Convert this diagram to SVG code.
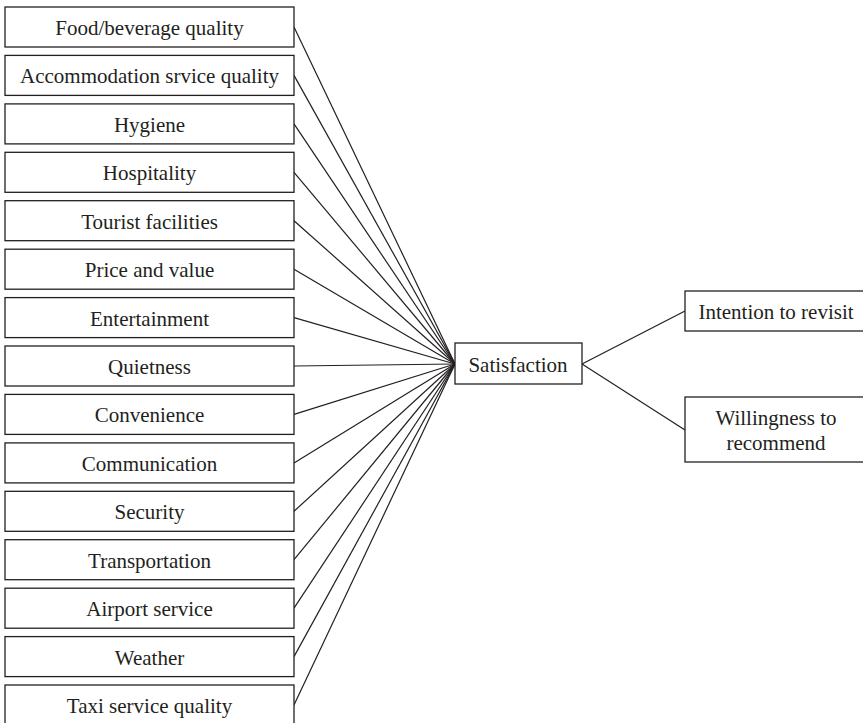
<svg xmlns="http://www.w3.org/2000/svg" width="863" height="723" viewBox="0 0 863 723">
<style>
rect{fill:#fff;stroke:#231f20;stroke-width:1.3}
line{stroke:#231f20;stroke-width:1.2}
text{font-family:"Liberation Serif","Times New Roman",serif;font-size:21px;fill:#231f20;text-anchor:middle}
</style>
<rect x="0" y="0" width="863" height="723" style="stroke:none"/>
<g id="connectors">
<line x1="294" y1="27" x2="455" y2="364"/>
<line x1="294" y1="75.4" x2="455" y2="364"/>
<line x1="294" y1="123.9" x2="455" y2="364"/>
<line x1="294" y1="172.3" x2="455" y2="364"/>
<line x1="294" y1="220.7" x2="455" y2="364"/>
<line x1="294" y1="269.2" x2="455" y2="364"/>
<line x1="294" y1="317.6" x2="455" y2="364"/>
<line x1="294" y1="366" x2="455" y2="364"/>
<line x1="294" y1="414.4" x2="455" y2="364"/>
<line x1="294" y1="462.9" x2="455" y2="364"/>
<line x1="294" y1="511.3" x2="455" y2="364"/>
<line x1="294" y1="559.7" x2="455" y2="364"/>
<line x1="294" y1="608.2" x2="455" y2="364"/>
<line x1="294" y1="656.6" x2="455" y2="364"/>
<line x1="294" y1="705" x2="455" y2="364"/>
<line x1="582" y1="364" x2="685" y2="311"/>
<line x1="582" y1="364" x2="685" y2="430"/>
</g>
<g id="n1"><rect x="5" y="7" width="289" height="40"/><text x="149.5" y="35">Food/beverage quality</text></g>
<g id="n2"><rect x="5" y="55.4" width="289" height="40"/><text x="149.5" y="83.4">Accommodation srvice quality</text></g>
<g id="n3"><rect x="5" y="103.9" width="289" height="40"/><text x="149.5" y="131.9">Hygiene</text></g>
<g id="n4"><rect x="5" y="152.3" width="289" height="40"/><text x="149.5" y="180.3">Hospitality</text></g>
<g id="n5"><rect x="5" y="200.7" width="289" height="40"/><text x="149.5" y="228.7">Tourist facilities</text></g>
<g id="n6"><rect x="5" y="249.2" width="289" height="40"/><text x="149.5" y="277.2">Price and value</text></g>
<g id="n7"><rect x="5" y="297.6" width="289" height="40"/><text x="149.5" y="325.6">Entertainment</text></g>
<g id="n8"><rect x="5" y="346" width="289" height="40"/><text x="149.5" y="374">Quietness</text></g>
<g id="n9"><rect x="5" y="394.4" width="289" height="40"/><text x="149.5" y="422.4">Convenience</text></g>
<g id="n10"><rect x="5" y="442.9" width="289" height="40"/><text x="149.5" y="470.9">Communication</text></g>
<g id="n11"><rect x="5" y="491.3" width="289" height="40"/><text x="149.5" y="519.3">Security</text></g>
<g id="n12"><rect x="5" y="539.7" width="289" height="40"/><text x="149.5" y="567.7">Transportation</text></g>
<g id="n13"><rect x="5" y="588.2" width="289" height="40"/><text x="149.5" y="616.2">Airport service</text></g>
<g id="n14"><rect x="5" y="636.6" width="289" height="40"/><text x="149.5" y="664.6">Weather</text></g>
<g id="n15"><rect x="5" y="685" width="289" height="40"/><text x="149.5" y="713">Taxi service quality</text></g>
<g id="satisfaction"><rect x="455" y="343" width="127" height="41"/><text x="518" y="372">Satisfaction</text></g>
<g id="revisit"><rect x="685" y="291" width="180" height="40"/><text x="776" y="318.5">Intention to revisit</text></g>
<g id="recommend"><rect x="685" y="397" width="180" height="65"/><text x="776" y="425">Willingness to</text><text x="776" y="450">recommend</text></g>
</svg>
